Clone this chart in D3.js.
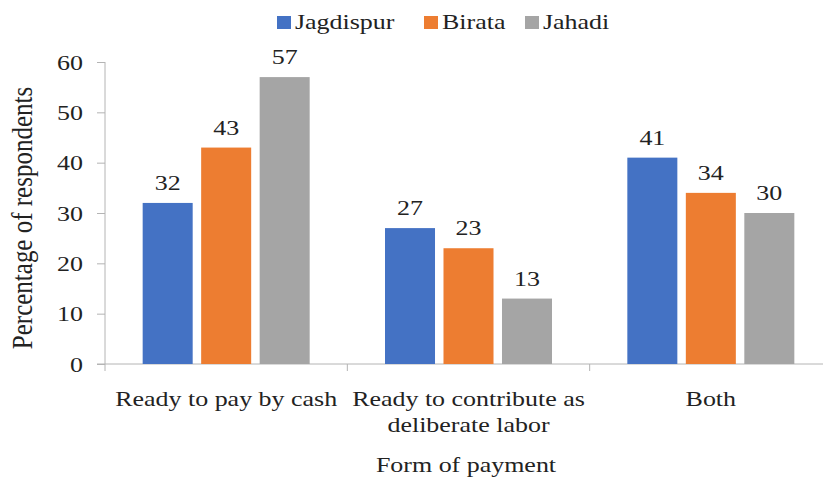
<!DOCTYPE html>
<html>
<head>
<meta charset="utf-8">
<script src="https://cdn.jsdelivr.net/npm/d3@7"></script>
<style>
  body { margin: 0; background: #fff; }
</style>
</head>
<body>
<div id="chart"></div>
<script>
// form of payment, by village
const categories = [['Ready to pay by cash'], ['Ready to contribute as', 'deliberate labor'], ['Both']]
const villages = ['Jagdispur', 'Birata', 'Jahadi']
const jagdispur = [32, 27, 41]
const birata = [43, 23, 34]
const jahadi = [57, 13, 30]
const yTicks = [0, 10, 20, 30, 40, 50, 60]
const colors = ['#4472C4', '#ED7D31', '#A5A5A5']

const W = 823, H = 478
const margin = {left: 105, top: 62, bottom: 114}
const plotRight = 832
const axisColor = '#b4b4b4'
const FONT = "'Liberation Serif', 'Times New Roman', Times, serif"
const SX = 1.18   // the source picture is a bit stretched sideways
const FS = 22

const series = [jagdispur, birata, jahadi]
const catKeys = categories.map(c => c.join(' '))

const svg = d3.select('#chart').append('svg')
  .attr('width', W)
  .attr('height', H)
  .style('font-family', FONT)

function label(parent, x, y, str, size, anchor) {
  return parent.append('text')
    .attr('transform', `translate(${x},${y}) scale(${SX},1)`)
    .attr('text-anchor', anchor || 'middle')
    .attr('font-size', size || FS)
    .attr('fill', '#222')
    .text(str)
}

const y = d3.scaleLinear().domain([0, 60]).range([H - margin.bottom, margin.top])
const x0 = d3.scaleBand().domain(catKeys).range([margin.left, plotRight])
const groupW = 167
const x1 = d3.scaleBand().domain(villages)
  .range([(x0.bandwidth() - groupW) / 2, (x0.bandwidth() + groupW) / 2])
  .paddingInner(0.145)

// y axis
const yAxis = svg.append('g')
  .attr('transform', `translate(${margin.left},0)`)
  .call(d3.axisLeft(y).tickValues(yTicks).tickSize(8))
yAxis.attr('font-family', null)
yAxis.selectAll('path, line').attr('stroke', axisColor)
yAxis.select('.domain').attr('d', `M0,${y(60)}V${y(0)}`)
yAxis.selectAll('text')
  .attr('font-size', FS)
  .attr('fill', '#222')
  .attr('x', -22 / SX)
  .attr('transform', `scale(${SX},1)`)

// x axis line + band boundary ticks
const baseY = y(0)
svg.append('line')
  .attr('x1', margin.left - 8).attr('x2', plotRight)
  .attr('y1', baseY).attr('y2', baseY)
  .attr('stroke', axisColor)
const bounds = catKeys.map(k => x0(k)).concat([x0(catKeys[2]) + x0.bandwidth()])
svg.selectAll('.xtick')
  .data(bounds)
  .enter()
  .append('line')
  .attr('class', 'xtick')
  .attr('x1', d => d).attr('x2', d => d)
  .attr('y1', baseY).attr('y2', baseY + 7)
  .attr('stroke', axisColor)

// bars + value labels
catKeys.forEach((cat, ci) => {
  const g = svg.append('g').attr('transform', `translate(${x0(cat)},0)`)
  const rows = villages.map((v, si) => ({v, si, val: series[si][ci]}))
  g.selectAll('rect')
    .data(rows)
    .enter()
    .append('rect')
    .attr('x', d => x1(d.v))
    .attr('width', x1.bandwidth())
    .attr('y', d => y(d.val))
    .attr('height', d => y(0) - y(d.val))
    .attr('fill', d => colors[d.si])
  rows.forEach(d => {
    label(g, x1(d.v) + x1.bandwidth() / 2, y(d.val) - 13, d.val)
  })
})

// category labels
categories.forEach((lines, i) => {
  const cx = x0(catKeys[i]) + x0.bandwidth() / 2
  lines.forEach((t, j) => label(svg, cx, 406 + j * 26, t))
})

// axis titles
label(svg, 466, 472, 'Form of payment')

svg.append('text')
  .attr('transform', `translate(32,218) scale(${SX},1) rotate(-90)`)
  .attr('text-anchor', 'middle')
  .attr('font-size', 25)
  .attr('fill', '#222')
  .text('Percentage of respondents')

// legend
const legendX = [277, 424, 525]
villages.forEach((v, i) => {
  svg.append('rect')
    .attr('x', legendX[i]).attr('y', 16)
    .attr('width', 14).attr('height', 13)
    .attr('fill', colors[i])
  label(svg, legendX[i] + 18, 29, v, FS, 'start')
})
</script>
</body>
</html>
